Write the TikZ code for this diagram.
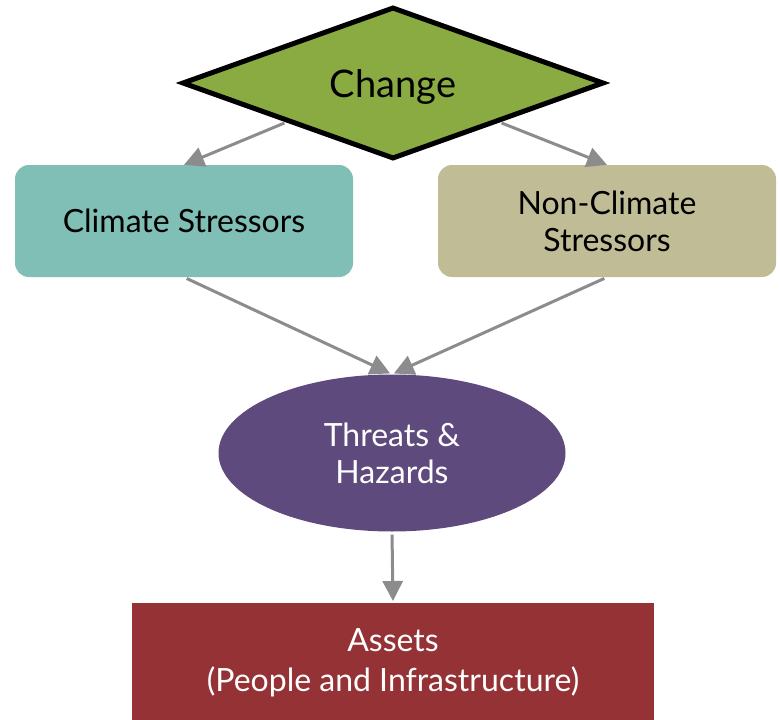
\documentclass[tikz,border=0pt]{standalone}
\usepackage{fontspec}
\setmainfont{Lato}
\usetikzlibrary{shapes.geometric,arrows.meta}
\definecolor{chgG}{HTML}{8AAA42}
\definecolor{csT}{HTML}{80BFB6}
\definecolor{ncsT}{HTML}{BFBC96}
\definecolor{thP}{HTML}{5E4A7C}
\definecolor{asR}{HTML}{953235}
\definecolor{arG}{HTML}{8C8C8C}
\tikzset{
  arr/.style={draw=arG, line width=3pt, -{Triangle[length=20pt,width=20pt]}},
  txt/.style={font=\fontsize{32}{37}\selectfont},
  rbox/.style={txt, rounded corners=14pt, minimum width=338pt, minimum height=112pt, inner sep=0pt, align=center},
}
\begin{document}
\begin{tikzpicture}[x=1pt,y=-1pt]
\useasboundingbox (0,0) rectangle (780,720);
\node[diamond, draw=black, line width=5pt, fill=chgG, minimum width=422pt, minimum height=152pt, inner sep=0pt, font=\fontsize{38}{44}\selectfont] (chg) at (393,83) {\raisebox{-14pt}[0pt][0pt]{Change}};
\node[rbox, fill=csT] (cs) at (184,221) {Climate Stressors};
\node[rbox, fill=ncsT] (ncs) at (607,221) {Non-Climate\\Stressors};
\node[txt, ellipse, fill=thP, minimum width=347pt, minimum height=157pt, inner sep=0pt, text=white, align=center] (th) at (392,453) {Threats \&\\Hazards};
\node[fill=asR, minimum width=522pt, minimum height=120pt, inner sep=0pt, text=white, align=center, font=\fontsize{32}{40}\selectfont, anchor=north] (as) at (393,603) {Assets\\(People and Infrastructure)};
\draw[arr, shorten <=2pt] (chg.south west) -- (cs.north);
\draw[arr, shorten <=2pt] (chg.south east) -- (ncs.north);
\draw[arr, shorten <=3pt, shorten >=2pt] (cs.south) -- (th.north);
\draw[arr, shorten <=3pt, shorten >=2pt] (ncs.south) -- (th.north);
\draw[arr, shorten <=3pt, shorten >=2pt] (th.south) -- (as.north);
\end{tikzpicture}
\end{document}
